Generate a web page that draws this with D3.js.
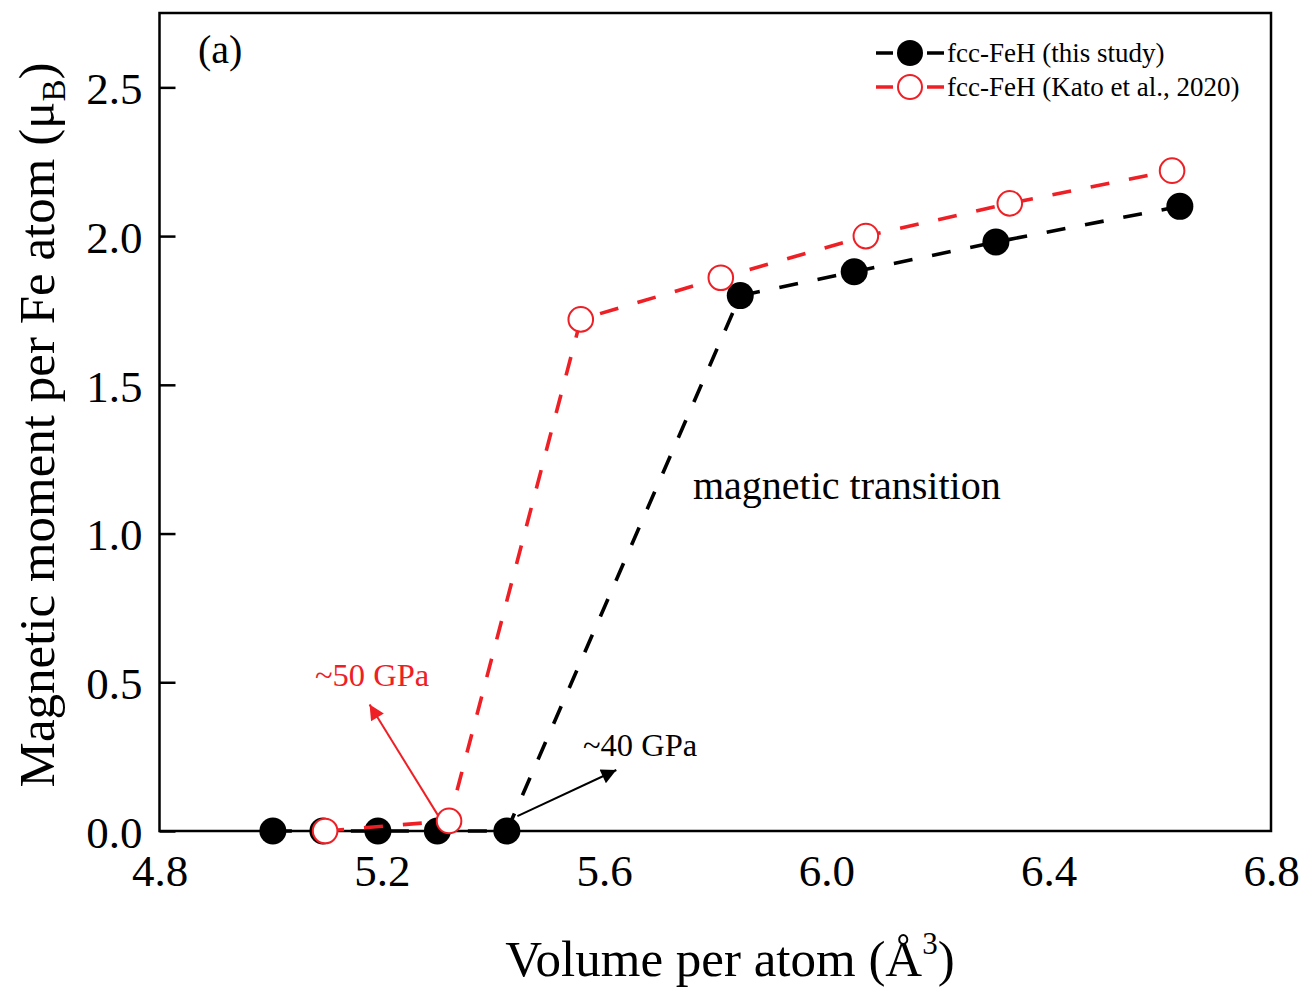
<!DOCTYPE html>
<html>
<head>
<meta charset="utf-8">
<script src="https://cdn.jsdelivr.net/npm/d3@7"></script>
<style>
  html, body { margin: 0; padding: 0; background: #fff; }
  svg { display: block; font-family: "Liberation Serif", "Times New Roman", serif; }
</style>
</head>
<body>
<svg id="chart" width="1307" height="990"></svg>
<script>
// Magnetic moment of fcc-FeH versus volume per atom
const thisStudyVolume = [5.004, 5.094, 5.193, 5.300, 5.425, 5.845, 6.050, 6.305, 6.636];
const thisStudyMoment = [0.0, 0.0, 0.0, 0.0, 0.0, 1.80, 1.88, 1.98, 2.10];
const katoVolume = [5.098, 5.321, 5.558, 5.810, 6.071, 6.330, 6.622];
const katoMoment = [0.0, 0.034, 1.72, 1.86, 2.00, 2.11, 2.22];

const xTicks = [4.8, 5.2, 5.6, 6.0, 6.4, 6.8];
const yTicks = [0.0, 0.5, 1.0, 1.5, 2.0, 2.5];

const seriesNames = ["fcc-FeH (this study)", "fcc-FeH (Kato et al., 2020)"];

// annotation arrows: [tail volume, tail moment, head volume, head moment]
const arrow50 = [5.302, 0.05, 5.178, 0.425];
const arrow40 = [5.444, 0.05, 5.622, 0.205];

const margin = { left: 159.5, right: 36, top: 13, bottom: 159 };
const W = 1307, H = 990;
const svg = d3.select("#chart");

const x = d3.scaleLinear().domain([4.8, 6.8]).range([margin.left, W - margin.right]);
const y = d3.scaleLinear().domain([0, 2.75]).range([H - margin.bottom, margin.top]);

const RED = "#ee2026";

// bottom axis: labels only
const xAxis = svg.append("g")
  .attr("transform", `translate(0,${y(0)})`)
  .call(d3.axisBottom(x).tickValues(xTicks).tickFormat(d3.format(".1f")).tickSize(0).tickPadding(0));
xAxis.select(".domain").remove();
xAxis.selectAll(".tick line").remove();
xAxis.selectAll(".tick text")
  .attr("y", 55).attr("dy", 0)
  .attr("font-size", 45).attr("font-family", "Liberation Serif").attr("fill", "#000");

// left axis with inward ticks
const yAxis = svg.append("g")
  .attr("transform", `translate(${x(4.8)},0)`)
  .call(d3.axisLeft(y).tickValues(yTicks).tickFormat(d3.format(".1f")).tickSize(-16).tickPadding(17));
yAxis.select(".domain").remove();
yAxis.selectAll(".tick line").attr("stroke", "#000").attr("stroke-width", 2.5);
yAxis.selectAll(".tick text")
  .attr("dy", "0.36em")
  .attr("font-size", 45).attr("font-family", "Liberation Serif").attr("fill", "#000");

// frame
svg.append("rect")
  .attr("x", x(4.8)).attr("y", y(2.75))
  .attr("width", x(6.8) - x(4.8)).attr("height", y(0) - y(2.75))
  .attr("fill", "none").attr("stroke", "#000").attr("stroke-width", 2.5);

const line = d3.line().x(d => x(d[0])).y(d => y(d[1]));
const blackPts = thisStudyVolume.map((v, i) => [v, thisStudyMoment[i]]);
const redPts = katoVolume.map((v, i) => [v, katoMoment[i]]);

// this study
svg.append("path").datum(blackPts).attr("d", line)
  .attr("fill", "none").attr("stroke", "#000").attr("stroke-width", 3.6)
  .attr("stroke-dasharray", "19,20");
svg.append("g").selectAll("circle").data(blackPts).join("circle")
  .attr("cx", d => x(d[0])).attr("cy", d => y(d[1])).attr("r", 13.5).attr("fill", "#000");

// Kato et al. 2020
svg.append("path").datum(redPts).attr("d", line)
  .attr("fill", "none").attr("stroke", RED).attr("stroke-width", 3.6)
  .attr("stroke-dasharray", "19,20");
svg.append("g").selectAll("circle").data(redPts).join("circle")
  .attr("cx", d => x(d[0])).attr("cy", d => y(d[1])).attr("r", 12.3)
  .attr("fill", "#fff").attr("stroke", RED).attr("stroke-width", 2);

// arrow markers
const defs = svg.append("defs");
[["headRed", RED], ["headBlack", "#000"]].forEach(([id, c]) => {
  defs.append("marker").attr("id", id)
    .attr("viewBox", "0 0 10 10").attr("refX", 10).attr("refY", 5)
    .attr("markerUnits", "userSpaceOnUse").attr("markerWidth", 22).attr("markerHeight", 15)
    .attr("orient", "auto")
    .append("path").attr("d", "M0,0 L10,5 L0,10 Z").attr("fill", c);
});
svg.append("line")
  .attr("x1", x(arrow50[0])).attr("y1", y(arrow50[1]))
  .attr("x2", x(arrow50[2])).attr("y2", y(arrow50[3]))
  .attr("stroke", RED).attr("stroke-width", 2).attr("marker-end", "url(#headRed)");
svg.append("line")
  .attr("x1", x(arrow40[0])).attr("y1", y(arrow40[1]))
  .attr("x2", x(arrow40[2])).attr("y2", y(arrow40[3]))
  .attr("stroke", "#000").attr("stroke-width", 2).attr("marker-end", "url(#headBlack)");

// annotation texts
svg.append("text").attr("x", 315).attr("y", 686)
  .attr("font-size", 32.5).attr("fill", RED).text("~50 GPa");
svg.append("text").attr("x", 583).attr("y", 756)
  .attr("font-size", 32.5).attr("fill", "#000").text("~40 GPa");
svg.append("text").attr("x", 693).attr("y", 499)
  .attr("font-size", 40).attr("fill", "#000").text("magnetic transition");
svg.append("text").attr("x", 198).attr("y", 63)
  .attr("font-size", 40).attr("fill", "#000").text("(a)");

// legend
const legend = svg.append("g");
[0, 1].forEach(i => {
  const ly = 53 + i * 34;
  const col = i === 0 ? "#000" : RED;
  legend.append("line").attr("x1", 876).attr("x2", 944).attr("y1", ly).attr("y2", ly)
    .attr("stroke", col).attr("stroke-width", 3.6).attr("stroke-dasharray", "17,34");
  const c = legend.append("circle").attr("cx", 910).attr("cy", ly);
  if (i === 0) c.attr("r", 13).attr("fill", "#000");
  else c.attr("r", 12).attr("fill", "#fff").attr("stroke", RED).attr("stroke-width", 2);
  legend.append("text").attr("x", 947).attr("y", ly + 9)
    .attr("font-size", 27).attr("fill", "#000").text(seriesNames[i]);
});

// axis titles
const xt = svg.append("text").attr("x", 730).attr("y", 976)
  .attr("text-anchor", "middle").attr("font-size", 51).attr("fill", "#000");
xt.append("tspan").text("Volume per atom (Å");
xt.append("tspan").attr("font-size", 31).attr("dy", -22).text("3");
xt.append("tspan").attr("dy", 22).text(")");

const yt = svg.append("text")
  .attr("transform", `translate(54,425) rotate(-90)`)
  .attr("text-anchor", "middle").attr("font-size", 51).attr("fill", "#000");
yt.append("tspan").text("Magnetic moment per Fe atom (μ");
yt.append("tspan").attr("font-size", 33).attr("dy", 11).text("B");
yt.append("tspan").attr("dy", -11).text(")");
</script>
</body>
</html>
